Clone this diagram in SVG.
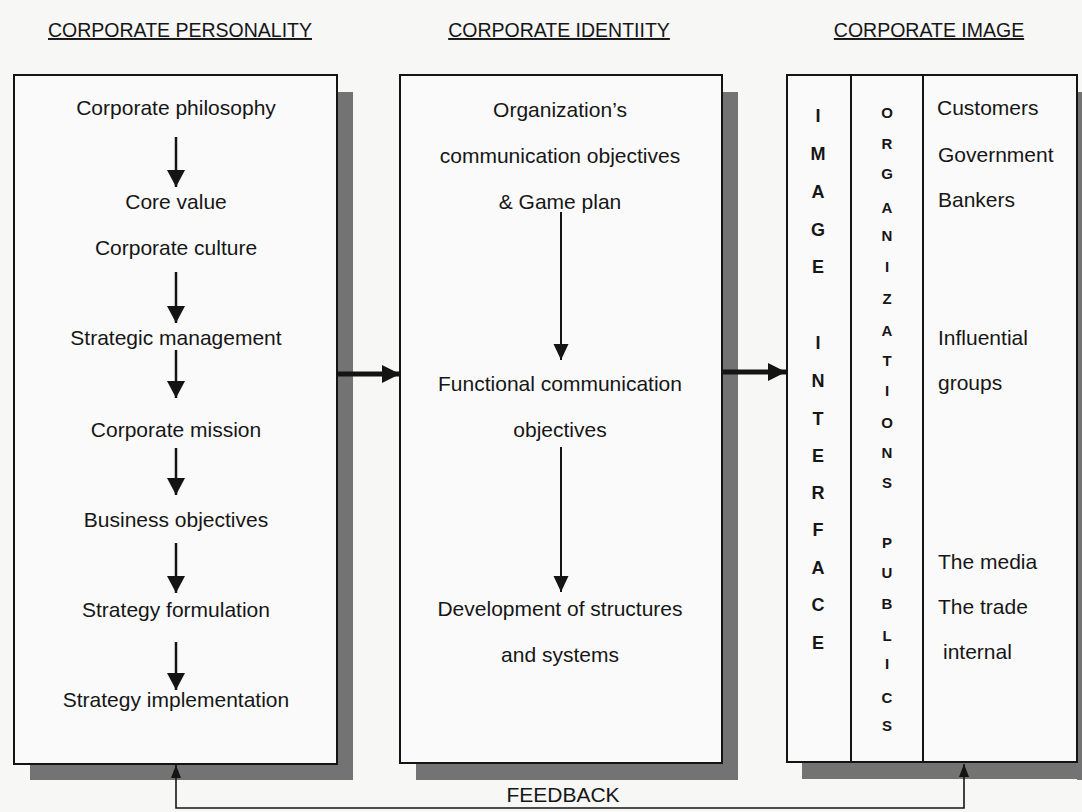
<svg xmlns="http://www.w3.org/2000/svg" width="1082" height="812" viewBox="0 0 1082 812">
  <defs>
    <style>
      .hdr { font-family: "Liberation Sans", Arial, sans-serif; font-size: 19.5px; fill: #161616; text-anchor: middle; text-decoration: underline; }
      .txt { font-family: "Liberation Sans", Arial, sans-serif; font-size: 21px; fill: #161616; }
      .mid { text-anchor: middle; }
      .vl { font-family: "Liberation Sans", Arial, sans-serif; font-size: 18px; font-weight: bold; fill: #161616; text-anchor: middle; }
      .vs { font-family: "Liberation Sans", Arial, sans-serif; font-size: 15px; font-weight: bold; fill: #161616; text-anchor: middle; }
      .box { fill: #fafafa; stroke: #141414; stroke-width: 2; }
      .shadow { fill: #737373; }
      .div { stroke: #141414; stroke-width: 2; }
      .flow { stroke: #141414; stroke-width: 2.5; fill: none; }
      .thin { stroke: #141414; stroke-width: 2; fill: none; }
      .big { stroke: #141414; stroke-width: 5; fill: none; }
      .fb { stroke: #141414; stroke-width: 1.6; fill: none; }
    </style>
    <marker id="headL" markerUnits="userSpaceOnUse" markerWidth="18" markerHeight="18" refX="17" refY="9" orient="auto">
      <path d="M0,0 L17,9 L0,18 Z" fill="#141414"/>
    </marker>
    <marker id="headM" markerUnits="userSpaceOnUse" markerWidth="16" markerHeight="16" refX="16" refY="7.5" orient="auto">
      <path d="M0,0 L16,7.5 L0,15 Z" fill="#141414"/>
    </marker>
    <marker id="headBig" markerUnits="userSpaceOnUse" markerWidth="20" markerHeight="20" refX="18" refY="9" orient="auto">
      <path d="M0,0 L18,9 L0,18 Z" fill="#141414"/>
    </marker>
    <marker id="headFb" markerUnits="userSpaceOnUse" markerWidth="14" markerHeight="12" refX="13" refY="5" orient="auto-start-reverse">
      <path d="M0,0 L13,5 L0,10 Z" fill="#141414"/>
    </marker>
  </defs>

  <rect width="1082" height="812" fill="#f7f7f6"/>

  <!-- column headings -->
  <g id="headings">
    <text class="hdr" x="180" y="37">CORPORATE PERSONALITY</text>
    <text class="hdr" x="559" y="37">CORPORATE IDENTIITY</text>
    <text class="hdr" x="929" y="37">CORPORATE IMAGE</text>
  </g>

  <!-- corporate personality -->
  <g id="personality">
    <rect class="shadow" x="337" y="92" width="16" height="688"/>
    <rect class="shadow" x="30" y="764" width="323" height="16"/>
    <rect class="box" x="14" y="75" width="323" height="689"/>
    <text class="txt mid" x="176" y="115">Corporate philosophy</text>
    <text class="txt mid" x="176" y="209">Core value</text>
    <text class="txt mid" x="176" y="255">Corporate culture</text>
    <text class="txt mid" x="176" y="345">Strategic management</text>
    <text class="txt mid" x="176" y="437">Corporate mission</text>
    <text class="txt mid" x="176" y="527">Business objectives</text>
    <text class="txt mid" x="176" y="617">Strategy formulation</text>
    <text class="txt mid" x="176" y="707">Strategy implementation</text>
  </g>

  <!-- corporate identity -->
  <g id="identity">
    <rect class="shadow" x="722" y="92" width="16" height="688"/>
    <rect class="shadow" x="416" y="763" width="322" height="17"/>
    <rect class="box" x="400" y="75" width="322" height="688"/>
    <text class="txt mid" x="560" y="117">Organization’s</text>
    <text class="txt mid" x="560" y="163">communication objectives</text>
    <text class="txt mid" x="560" y="209">&amp; Game plan</text>
    <text class="txt mid" x="560" y="391">Functional communication</text>
    <text class="txt mid" x="560" y="437">objectives</text>
    <text class="txt mid" x="560" y="616">Development of structures</text>
    <text class="txt mid" x="560" y="662">and systems</text>
  </g>

  <!-- corporate image -->
  <g id="image">
    <rect class="shadow" x="1077" y="92" width="16" height="688"/>
    <rect class="shadow" x="802" y="762" width="291" height="17"/>
    <rect class="box" x="787" y="75" width="290" height="687"/>
    <line class="div" x1="851" y1="75" x2="851" y2="762"/>
    <line class="div" x1="923" y1="75" x2="923" y2="762"/>
    <g id="image-interface">
      <text class="vl" x="818" y="122">I</text>
      <text class="vl" x="818" y="160">M</text>
      <text class="vl" x="818" y="198">A</text>
      <text class="vl" x="818" y="236">G</text>
      <text class="vl" x="818" y="273">E</text>
      <text class="vl" x="818" y="349">I</text>
      <text class="vl" x="818" y="387">N</text>
      <text class="vl" x="818" y="425">T</text>
      <text class="vl" x="818" y="462">E</text>
      <text class="vl" x="818" y="499">R</text>
      <text class="vl" x="818" y="536">F</text>
      <text class="vl" x="818" y="574">A</text>
      <text class="vl" x="818" y="611">C</text>
      <text class="vl" x="818" y="649">E</text>
    </g>
    <g id="organizations-publics">
      <text class="vs" x="887" y="118">O</text>
      <text class="vs" x="887" y="149">R</text>
      <text class="vs" x="887" y="179">G</text>
      <text class="vs" x="887" y="213">A</text>
      <text class="vs" x="887" y="241">N</text>
      <text class="vs" x="887" y="272">I</text>
      <text class="vs" x="887" y="304">Z</text>
      <text class="vs" x="887" y="336">A</text>
      <text class="vs" x="887" y="366">T</text>
      <text class="vs" x="887" y="396">I</text>
      <text class="vs" x="887" y="428">O</text>
      <text class="vs" x="887" y="458">N</text>
      <text class="vs" x="887" y="488">S</text>
      <text class="vs" x="887" y="548">P</text>
      <text class="vs" x="887" y="578">U</text>
      <text class="vs" x="887" y="609">B</text>
      <text class="vs" x="887" y="641">L</text>
      <text class="vs" x="887" y="669">I</text>
      <text class="vs" x="887" y="703">C</text>
      <text class="vs" x="887" y="731">S</text>
    </g>
    <text class="txt" x="937" y="115">Customers</text>
    <text class="txt" x="938" y="162">Government</text>
    <text class="txt" x="938" y="207">Bankers</text>
    <text class="txt" x="938" y="345">Influential</text>
    <text class="txt" x="938" y="390">groups</text>
    <text class="txt" x="938" y="569">The media</text>
    <text class="txt" x="938" y="614">The trade</text>
    <text class="txt" x="943" y="659">internal</text>
  </g>

  <!-- connectors -->
  <g id="connectors">
    <path class="flow" d="M176,137 V187" marker-end="url(#headL)"/>
    <path class="flow" d="M176,272 V323" marker-end="url(#headL)"/>
    <path class="flow" d="M176,350 V398" marker-end="url(#headL)"/>
    <path class="flow" d="M176,448 V495" marker-end="url(#headL)"/>
    <path class="flow" d="M176,543 V593" marker-end="url(#headL)"/>
    <path class="flow" d="M176,642 V690" marker-end="url(#headL)"/>
    <path class="thin" d="M561,212 V360" marker-end="url(#headM)"/>
    <path class="thin" d="M561,447 V592" marker-end="url(#headM)"/>
    <path class="big" d="M337,374 H400" marker-end="url(#headBig)"/>
    <path class="big" d="M722,372 H786" marker-end="url(#headBig)"/>
    <path class="fb" d="M176,765 V808 H964 V764" marker-start="url(#headFb)" marker-end="url(#headFb)"/>
    <text class="txt mid" x="563" y="802">FEEDBACK</text>
  </g>
</svg>
